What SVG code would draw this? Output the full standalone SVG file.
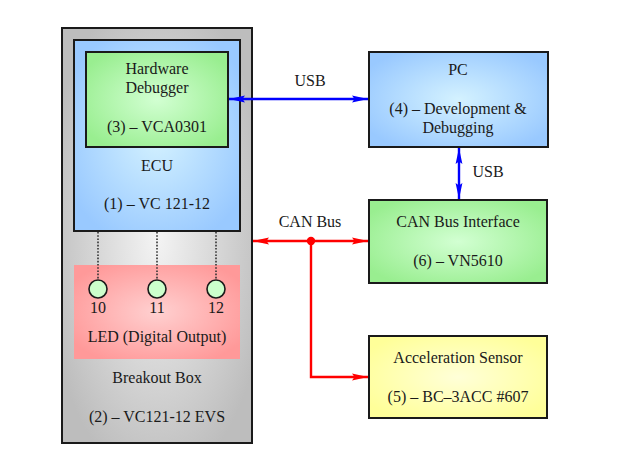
<svg xmlns="http://www.w3.org/2000/svg" width="623" height="463" viewBox="0 0 623 463">
<style>
text{font-family:"Liberation Serif","Times New Roman",serif;font-size:16px;fill:#1a1a1a;text-anchor:middle}
.box{stroke:#1a1a1a;stroke-width:2}
.blue{stroke:#0000ff;stroke-width:2.4;fill:none}
.red{stroke:#ff0000;stroke-width:2.4;fill:none}
.dot{stroke:#333;stroke-width:1.6;stroke-dasharray:1.6 1.6}
</style>
<defs>
<radialGradient id="gGray" cx="50%" cy="50%" r="60%"><stop offset="0" stop-color="#f4f4f4"/><stop offset="1" stop-color="#bdbdbd"/></radialGradient>
<radialGradient id="gBlue" cx="50%" cy="50%" r="60%"><stop offset="0" stop-color="#d4f2ff"/><stop offset="1" stop-color="#99c9ff"/></radialGradient>
<radialGradient id="gGreen" cx="50%" cy="50%" r="60%"><stop offset="0" stop-color="#d2ffd2"/><stop offset="1" stop-color="#99ee90"/></radialGradient>
<radialGradient id="gPink" cx="50%" cy="50%" r="60%"><stop offset="0" stop-color="#ffd0d0"/><stop offset="1" stop-color="#ff9999"/></radialGradient>
<radialGradient id="gYellow" cx="50%" cy="50%" r="60%"><stop offset="0" stop-color="#ffffd8"/><stop offset="1" stop-color="#ffff99"/></radialGradient>
<marker id="aBlue" markerUnits="userSpaceOnUse" markerWidth="18" markerHeight="10" refX="16" refY="5" orient="auto-start-reverse" viewBox="0 0 18 10"><path d="M0,1.6 L16,5 L0,8.4 L2.5,5 z" fill="#0000ff"/></marker>
<marker id="aRed" markerUnits="userSpaceOnUse" markerWidth="18" markerHeight="10" refX="16" refY="5" orient="auto-start-reverse" viewBox="0 0 18 10"><path d="M0,1.6 L16,5 L0,8.4 L2.5,5 z" fill="#ff0000"/></marker>
</defs>

<g id="breakout-box">
<rect class="box" x="62" y="28" width="190" height="415" fill="url(#gGray)"/>
<text x="157" y="383">Breakout Box</text>
<text x="157" y="422">(2) – VC121-12 EVS</text>
</g>

<g id="ecu">
<rect class="box" x="74" y="40" width="166" height="191" fill="url(#gBlue)"/>
<text x="157" y="171">ECU</text>
<text x="157" y="209">(1) – VC 121-12</text>
</g>

<g id="hardware-debugger">
<rect class="box" x="86" y="52" width="142" height="95" fill="url(#gGreen)"/>
<text x="157" y="74">Hardware</text>
<text x="157" y="93">Debugger</text>
<text x="157" y="132">(3) – VCA0301</text>
</g>

<g id="led">
<rect x="74" y="265" width="166" height="94" fill="url(#gPink)"/>
<text x="157" y="342">LED (Digital Output)</text>
</g>

<g id="led-10">
<circle cx="98" cy="289" r="9" fill="#ccffcc" stroke="#1a1a1a" stroke-width="1.6"/>
<text x="98" y="313">10</text>
</g>
<g id="led-11">
<circle cx="157" cy="289" r="9" fill="#ccffcc" stroke="#1a1a1a" stroke-width="1.6"/>
<text x="157" y="313">11</text>
</g>
<g id="led-12">
<circle cx="216" cy="289" r="9" fill="#ccffcc" stroke="#1a1a1a" stroke-width="1.6"/>
<text x="216" y="313">12</text>
</g>

<g id="pc">
<rect class="box" x="369" y="52" width="179" height="95" fill="url(#gBlue)"/>
<text x="458" y="75">PC</text>
<text x="458" y="114">(4) – Development &amp;</text>
<text x="458" y="133">Debugging</text>
</g>

<g id="can-interface">
<rect class="box" x="369" y="200" width="178" height="83" fill="url(#gGreen)"/>
<text x="458" y="227">CAN Bus Interface</text>
<text x="458" y="266">(6) – VN5610</text>
</g>

<g id="acceleration-sensor">
<rect class="box" x="369" y="336" width="178" height="82" fill="url(#gYellow)"/>
<text x="458" y="363">Acceleration Sensor</text>
<text x="458" y="402">(5) – BC–3ACC #607</text>
</g>

<g id="connectors">
<line class="dot" x1="98" y1="232" x2="98" y2="280"/>
<line class="dot" x1="157" y1="232" x2="157" y2="280"/>
<line class="dot" x1="216" y1="232" x2="216" y2="280"/>
<line class="blue" x1="229" y1="99" x2="368" y2="99" marker-start="url(#aBlue)" marker-end="url(#aBlue)"/>
<text x="310" y="86">USB</text>
<line class="blue" x1="459" y1="148" x2="459" y2="199" marker-start="url(#aBlue)" marker-end="url(#aBlue)"/>
<text x="488" y="177">USB</text>
<line class="red" x1="253" y1="241" x2="368" y2="241" marker-start="url(#aRed)" marker-end="url(#aRed)"/>
<polyline class="red" points="311,241 311,377 368,377" marker-end="url(#aRed)"/>
<circle cx="311" cy="241" r="4.2" fill="#ff0000"/>
<text x="310" y="227">CAN Bus</text>
</g>
</svg>
